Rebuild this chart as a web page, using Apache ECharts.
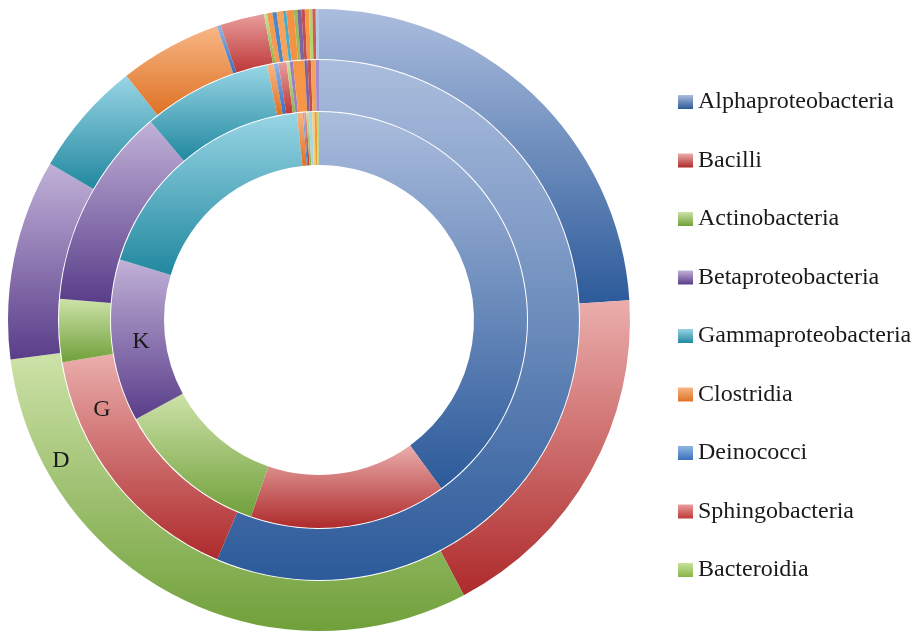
<!DOCTYPE html>
<html>
<head>
<meta charset="utf-8">
<script src="https://cdn.jsdelivr.net/npm/echarts@6/dist/echarts.min.js"></script>
<style>
  html, body { margin: 0; padding: 0; background: #ffffff; }
  #chart { width: 915px; height: 632px; }
</style>
</head>
<body>
<div id="chart"></div>
<script>
// ---- data ----
const classes = ['Alphaproteobacteria', 'Bacilli', 'Actinobacteria', 'Betaproteobacteria',
  'Gammaproteobacteria', 'Clostridia', 'Deinococci', 'Sphingobacteria', 'Bacteroidia'];
// ring K (inner), G (middle), D (outer), percent of reads
const valuesK = [40.0, 15.3, 11.8, 12.6, 18.6, 0.45, 0.10, 0.18, 0.18];
const valuesG = [56.4, 16.0, 3.9, 12.5, 8.0, 0.42, 0.28, 0.50, 0.20];
const valuesD = [24.0, 18.3, 30.7, 10.4, 6.0, 5.3, 0.20, 2.3, 0.15];
// minor classes (not in legend)
const minorK = [0.26, 0.18, 0.18, 0.17];
const minorG = [0.20, 0.70, 0.20, 0.20, 0.30, 0.20];
const minorD = [0.28, 0.22, 0.33, 0.17, 0.39, 0.17, 0.22, 0.17, 0.22, 0.17, 0.17, 0.17];
const ringNames = ['K', 'G', 'D'];

// ---- styles ----
const gradStops = {
  'Alphaproteobacteria': ['#abbddd', '#2c5a9a'],
  'Bacilli': ['#eaaeac', '#ae2a2b'],
  'Actinobacteria': ['#cde2a8', '#70a03a'],
  'Betaproteobacteria': ['#c1b1d8', '#593d89'],
  'Gammaproteobacteria': ['#98d5e5', '#21889f'],
  'Clostridia': ['#f8b685', '#de7224'],
  'Deinococci': ['#92b6e4', '#3a70bd'],
  'Sphingobacteria': ['#e89e9c', '#be3738'],
  'Bacteroidia': ['#c7e29e', '#86b646']
};
const minorColK = ['#a9d5e6', '#f0d36a', '#f79646', '#b9dc8c'];
const minorColG = ['#9b7fc0', '#f79646', '#8064a2', '#c0504d', '#f5a35a', '#a08ccb'];
const minorColD = ['#f59a50', '#4f86c6', '#f7a35c', '#4bacc6', '#f59045', '#9bbb59',
  '#8064a2', '#c0504d', '#f79646', '#b5d36b', '#d05a58', '#b7c9e2'];

function grad(name) {
  const s = gradStops[name];
  return new echarts.graphic.LinearGradient(0, 0, 0, 1, [
    { offset: 0, color: s[0] }, { offset: 1, color: s[1] }
  ]);
}
function ringData(vals, minor, minorCols, ring) {
  const d = classes.map((c, i) => ({ name: c, value: vals[i], itemStyle: { color: grad(c) } }));
  minor.forEach((v, i) => d.push({ name: 'minor-' + ring + '-' + (i + 1), value: v, itemStyle: { color: minorCols[i] } }));
  return d;
}

const center = [319, 320];
function pie(name, radius, data) {
  return {
    type: 'pie', name: name, center: center, radius: radius,
    startAngle: 90, clockwise: true, avoidLabelOverlap: false,
    label: { show: false }, labelLine: { show: false },
    emphasis: { disabled: true }, silent: true, animation: false,
    data: data
  };
}
const labelFont = '24px "Liberation Serif"';

const chart = echarts.init(document.getElementById('chart'), null, { renderer: 'canvas' });
chart.setOption({
  backgroundColor: '#ffffff',
  animation: false,
  legend: {
    data: classes,
    orient: 'vertical',
    left: 673, top: 85,
    itemWidth: 15, itemHeight: 14, itemGap: 34.5,
    icon: 'rect',
    selectedMode: false,
    textStyle: { fontFamily: 'Liberation Serif', fontSize: 24, color: '#1a1a1a', lineHeight: 24 }
  },
  graphic: [
    { type: 'text', x: 141, y: 342, style: { text: ringNames[0], font: labelFont, fill: '#1a1a1a', textAlign: 'center', textVerticalAlign: 'middle' }, z: 100 },
    { type: 'text', x: 102, y: 410, style: { text: ringNames[1], font: labelFont, fill: '#1a1a1a', textAlign: 'center', textVerticalAlign: 'middle' }, z: 100 },
    { type: 'text', x: 61, y: 461, style: { text: ringNames[2], font: labelFont, fill: '#1a1a1a', textAlign: 'center', textVerticalAlign: 'middle' }, z: 100 }
  ],
  series: [
    pie('K', [155, 208], ringData(valuesK, minorK, minorColK, 'K')),
    pie('G', [209, 260], ringData(valuesG, minorG, minorColG, 'G')),
    pie('D', [261, 311], ringData(valuesD, minorD, minorColD, 'D'))
  ]
});
</script>
</body>
</html>
